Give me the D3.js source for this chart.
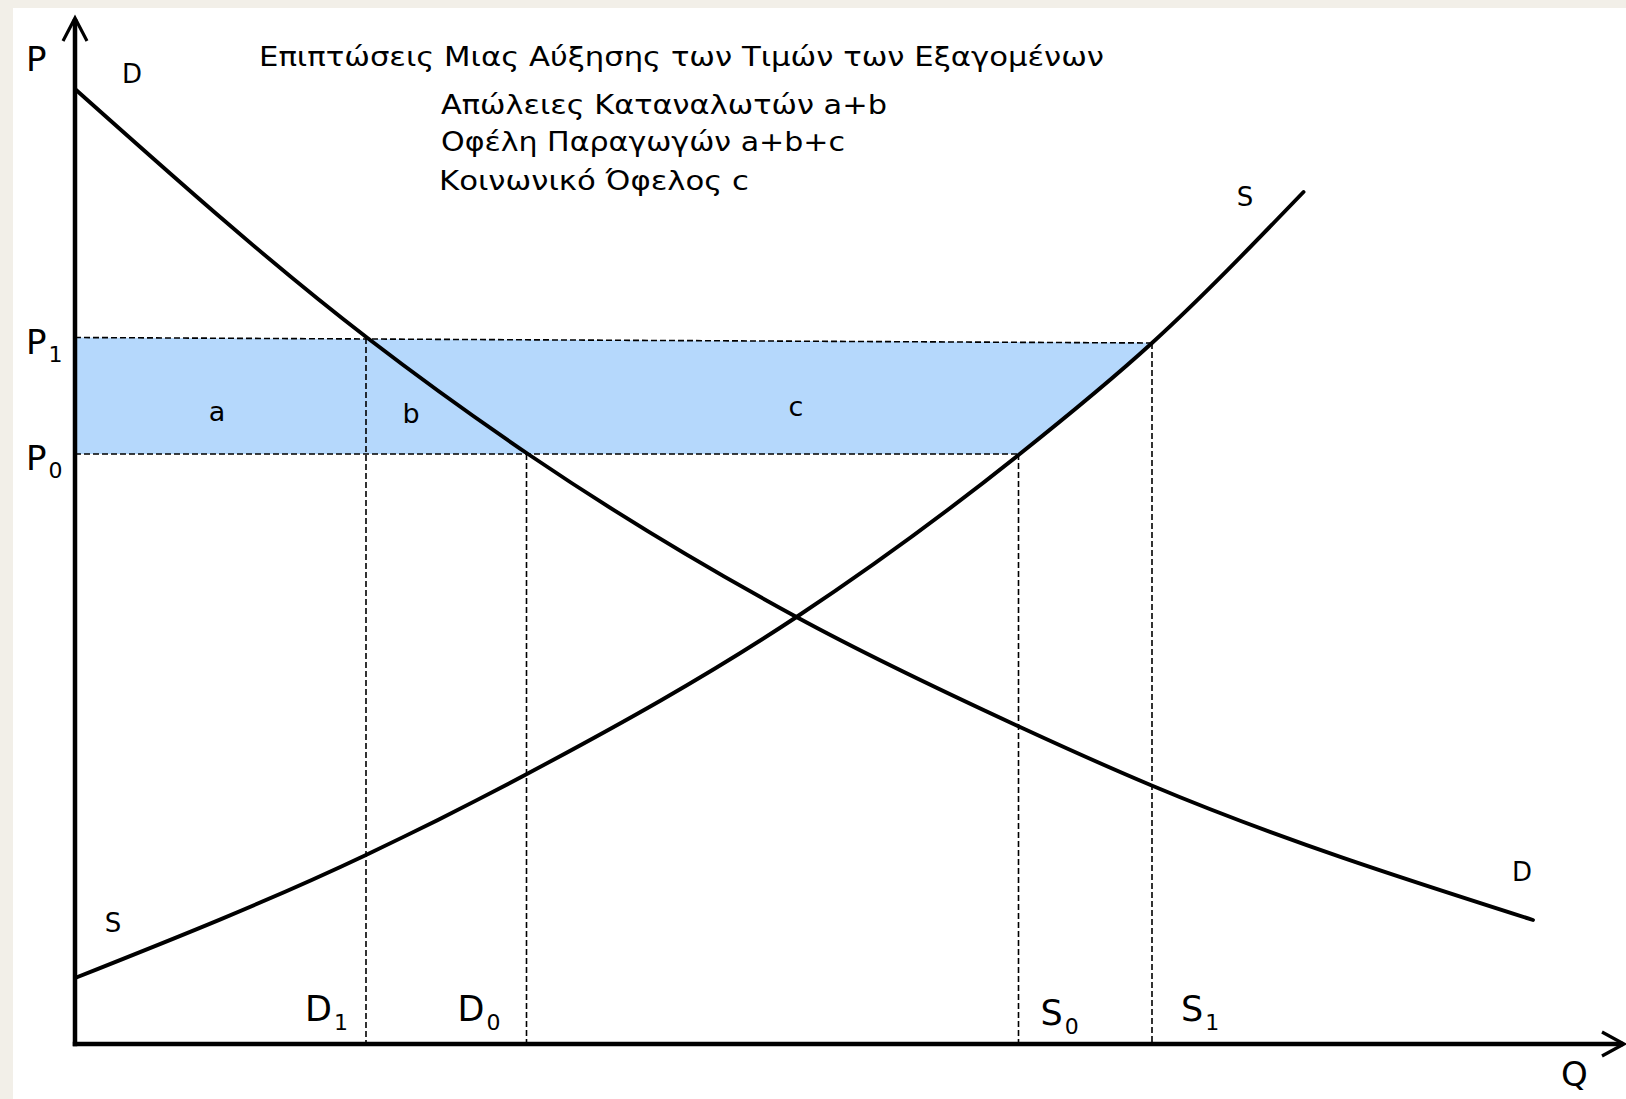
<!DOCTYPE html>
<html>
<head>
<meta charset="utf-8">
<script src="https://cdn.jsdelivr.net/npm/d3@7"></script>
<style>
  html, body { margin: 0; padding: 0; background: #f2efe8; }
  svg { display: block; }
</style>
</head>
<body>
<svg id="chart" width="1626" height="1099"></svg>
<script>
// ---------------- DATA ----------------
const titleText = "Επιπτώσεις Μιας Αύξησης των Τιμών των Εξαγομένων";
const noteLines = ["Απώλειες Καταναλωτών a+b", "Οφέλη Παραγωγών a+b+c", "Κοινωνικό Όφελος c"];

// Demand curve D (quantity, price)
const demandQ = [0, 19.5, 30.3, 48.1, 63.0, 71.7, 97.2];
const demandP = [95.5, 70.6, 58.9, 42.7, 31.7, 25.9, 12.4];

// Supply curve S (quantity, price)
const supplyQ = [0, 19.4, 30.0, 48.1, 62.9, 71.8, 81.9];
const supplyP = [6.6, 18.9, 26.9, 42.7, 58.9, 70.1, 85.2];

// Price levels (value at the axis and at the right end of the dashed guide)
const priceNames = ["P0", "P1"];
const priceAtAxis = [59.0, 70.65];
const priceAtEnd = [59.0, 70.1];
const priceEndQ = [62.9, 71.8];

// Quantities on the Q axis
const qtyNames = ["D1", "D0", "S0", "S1"];
const qtyValues = [19.4, 30.1, 62.9, 71.8];
const qtyTopP = [70.6, 59.0, 59.0, 70.1];

// Area labels
const areaNames = ["a", "b", "c"];

// Axis names
const axisNames = ["P", "Q"];

// ---------------- LAYOUT ----------------
const W = 1626, H = 1099;
const FONT = "'DejaVu Sans', 'Noto Sans', sans-serif";
const svg = d3.select("#chart");

const x = d3.scaleLinear().domain([0, 100]).range([75, 1575]);
const y = d3.scaleLinear().domain([0, 100]).range([1044, 44]);

// page + white panel
svg.append("rect").attr("width", W).attr("height", H).attr("fill", "#f2efe8");
svg.append("rect").attr("x", 13).attr("y", 8).attr("width", W - 13).attr("height", H - 8).attr("fill", "#ffffff");

const demand = demandQ.map((q, i) => ({ q, p: demandP[i] }));
const supply = supplyQ.map((q, i) => ({ q, p: supplyP[i] }));

const curveLine = d3.line()
  .x(d => x(d.q))
  .y(d => y(d.p))
  .curve(d3.curveMonotoneX);

// ---- shaded band a+b+c (between P0 and P1, left of S) ----
const sPath = curveLine(supply);
const defs = svg.append("defs");
defs.append("clipPath").attr("id", "leftOfS")
  .append("path")
  .attr("d", sPath + `L${x(supplyQ[supplyQ.length - 1])},${y(100)}L${x(0)},${y(100)}Z`);

const bandPts = [
  [x(0), y(priceAtAxis[1])],
  [x(priceEndQ[1] + 3), y(priceAtEnd[1])],
  [x(priceEndQ[1] + 3), y(priceAtEnd[0])],
  [x(0), y(priceAtAxis[0])]
];
svg.append("path")
  .attr("d", d3.line()(bandPts) + "Z")
  .attr("fill", "#b5d8fc")
  .attr("clip-path", "url(#leftOfS)");

// ---- dashed guides ----
const dashG = svg.append("g")
  .attr("stroke", "#000")
  .attr("stroke-width", 1.6)
  .attr("stroke-dasharray", "6,3")
  .attr("fill", "none");

priceNames.forEach((n, i) => {
  dashG.append("line")
    .attr("x1", x(0)).attr("y1", y(priceAtAxis[i]))
    .attr("x2", x(priceEndQ[i])).attr("y2", y(priceAtEnd[i]));
});
qtyNames.forEach((n, i) => {
  dashG.append("line")
    .attr("x1", x(qtyValues[i])).attr("y1", y(qtyTopP[i]))
    .attr("x2", x(qtyValues[i])).attr("y2", y(0));
});

// ---- curves ----
svg.append("path").attr("d", curveLine(demand))
  .attr("fill", "none").attr("stroke", "#000").attr("stroke-width", 3.9)
  .attr("stroke-linecap", "round");
svg.append("path").attr("d", sPath)
  .attr("fill", "none").attr("stroke", "#000").attr("stroke-width", 3.9)
  .attr("stroke-linecap", "round");

// ---- axes ----
const x0 = x(0), y0 = y(0);
const yTop = 18, xRight = 1624;
const axisG = svg.append("g").attr("stroke", "#000").attr("fill", "none");
axisG.append("line").attr("x1", x0).attr("y1", y0 + 2.25).attr("x2", x0).attr("y2", yTop + 1)
  .attr("stroke-width", 4.5);
axisG.append("line").attr("x1", x0 - 2.25).attr("y1", y0).attr("x2", xRight - 1).attr("y2", y0)
  .attr("stroke-width", 4.5);
axisG.append("path")
  .attr("d", `M${x0 - 12},${yTop + 23}L${x0},${yTop}L${x0 + 12},${yTop + 23}`)
  .attr("stroke-width", 3.2).attr("stroke-linejoin", "miter");
axisG.append("path")
  .attr("d", `M${xRight - 22},${y0 - 12}L${xRight},${y0}L${xRight - 22},${y0 + 12}`)
  .attr("stroke-width", 3.2).attr("stroke-linejoin", "miter");

// ---- texts ----
const textG = svg.append("g").attr("font-family", FONT).attr("fill", "#000");

function fitted(txt, tx, ty, size, len) {
  textG.append("text").attr("x", tx).attr("y", ty)
    .attr("font-size", size)
    .attr("textLength", len).attr("lengthAdjust", "spacingAndGlyphs")
    .text(txt);
}
fitted(titleText, 259, 66, 26, 845);
const noteX = [441, 441, 439], noteY = [114, 151, 190], noteLen = [446, 404, 310];
noteLines.forEach((t, i) => fitted(t, noteX[i], noteY[i], 27, noteLen[i]));

function subLabel(tx, ty, name, size, subSize, subDy) {
  const t = textG.append("text").attr("x", tx).attr("y", ty).attr("font-size", size);
  t.append("tspan").text(name.slice(0, 1));
  t.append("tspan").attr("font-size", subSize).attr("dx", 2).attr("dy", subDy).text(name.slice(1));
}

// axis names
textG.append("text").attr("x", 26).attr("y", 71).attr("font-size", 34).text(axisNames[0]);
textG.append("text").attr("x", 1561).attr("y", 1086).attr("font-size", 34).text(axisNames[1]);

// price labels
priceNames.forEach((n, i) => {
  subLabel(26, y(priceAtAxis[i]) + 16, n, 34, 22, 8);
});

// quantity labels (D left of their guide, S right of it)
const qtyOffset = [-61, -69, 22, 29];
const qtyBase = [1021, 1021, 1025, 1021];
qtyNames.forEach((n, i) => {
  subLabel(x(qtyValues[i]) + qtyOffset[i], qtyBase[i], n, 35, 22, 9);
});

// area labels
const areaX = [217, 411, 796], areaY = [421, 423, 416];
areaNames.forEach((n, i) => {
  textG.append("text").attr("x", areaX[i]).attr("y", areaY[i])
    .attr("text-anchor", "middle").attr("font-size", 27).text(n);
});

// curve labels
const curveLbl = [
  { t: "D", x: 132, y: 83 },
  { t: "S", x: 1245, y: 206 },
  { t: "S", x: 113, y: 932 },
  { t: "D", x: 1522, y: 881 }
];
curveLbl.forEach(c => {
  textG.append("text").attr("x", c.x).attr("y", c.y)
    .attr("text-anchor", "middle").attr("font-size", 26).text(c.t);
});
</script>
</body>
</html>
